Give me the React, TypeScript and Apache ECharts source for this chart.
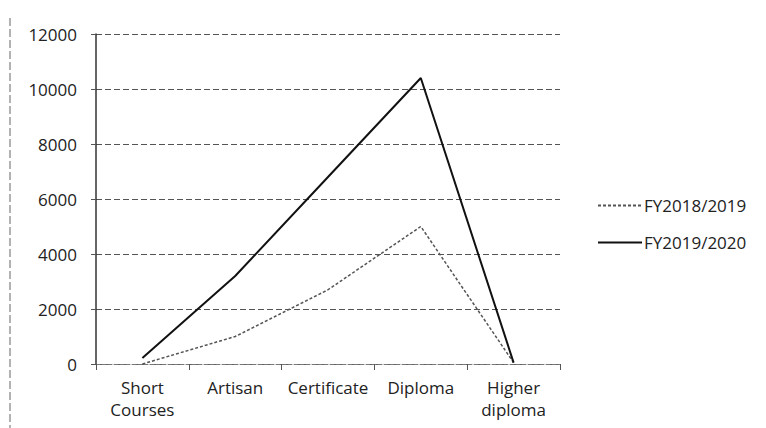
import React, { useEffect, useRef } from "react";
import * as echarts from "echarts";

const categories = ["Short\nCourses", "Artisan", "Certificate", "Diploma", "Higher\ndiploma"];
const fy2018 = [0, 1000, 2700, 5000, 50];
const fy2019 = [220, 3200, 6800, 10400, 50];
const seriesNames = ["FY2018/2019", "FY2019/2020"];
const yMin = 0;
const yMax = 12000;
const yInterval = 2000;

export default function App() {
  const ref = useRef<HTMLDivElement>(null);
  useEffect(() => {
    if (!ref.current) return;
    const chart = echarts.init(ref.current, null, { renderer: "svg" });
    const font = "'Open Sans', 'Liberation Sans', sans-serif";
    chart.setOption({
      animation: false,
      backgroundColor: "#fff",
      grid: { left: 96, right: 206, top: 34, bottom: 64 },
      legend: {
        orient: "vertical",
        left: 592,
        top: 192,
        itemWidth: 44,
        itemHeight: 12,
        itemGap: 20,
        itemStyle: { opacity: 0 },
        textStyle: { fontFamily: font, fontSize: 17, color: "#222", padding: [0, 0, 0, -3] },
        data: seriesNames,
      },
      xAxis: {
        type: "category",
        data: categories,
        boundaryGap: true,
        axisLine: { lineStyle: { color: "#777", type: "dashed", width: 1 } },
        axisTick: { show: true, length: 6, lineStyle: { color: "#555" } },
        axisLabel: { interval: 0, fontFamily: font, fontSize: 17, color: "#222", margin: 12, lineHeight: 22 },
      },
      yAxis: {
        type: "value",
        min: yMin,
        max: yMax,
        interval: yInterval,
        axisLine: { show: true, lineStyle: { color: "#333", width: 1.5 } },
        axisTick: { show: true, length: 5, lineStyle: { color: "#555" } },
        axisLabel: {
          fontFamily: font,
          fontSize: 17,
          color: "#222",
          margin: 19,
          formatter: (v: number) => String(v),
        },
        splitLine: { show: true, lineStyle: { color: "#555", type: [6, 3], width: 1 } },
      },
      graphic: [
        {
          type: "line",
          shape: { x1: 10, y1: 18, x2: 10, y2: 428 },
          style: { stroke: "#666", lineWidth: 1, lineDash: [8, 3] },
        },
      ],
      series: [
        {
          name: seriesNames[0],
          type: "line",
          data: fy2018,
          symbol: "none",
          lineStyle: { color: "#555", width: 1.5, type: [3, 2] },
          itemStyle: { color: "#555" },
        },
        {
          name: seriesNames[1],
          type: "line",
          data: fy2019,
          symbol: "none",
          lineStyle: { color: "#111", width: 2 },
          itemStyle: { color: "#111" },
        },
      ],
    });
    return () => chart.dispose();
  }, []);
  return <div ref={ref} style={{ width: 766, height: 428, position: "absolute", left: 0, top: 0 }} />;
}
